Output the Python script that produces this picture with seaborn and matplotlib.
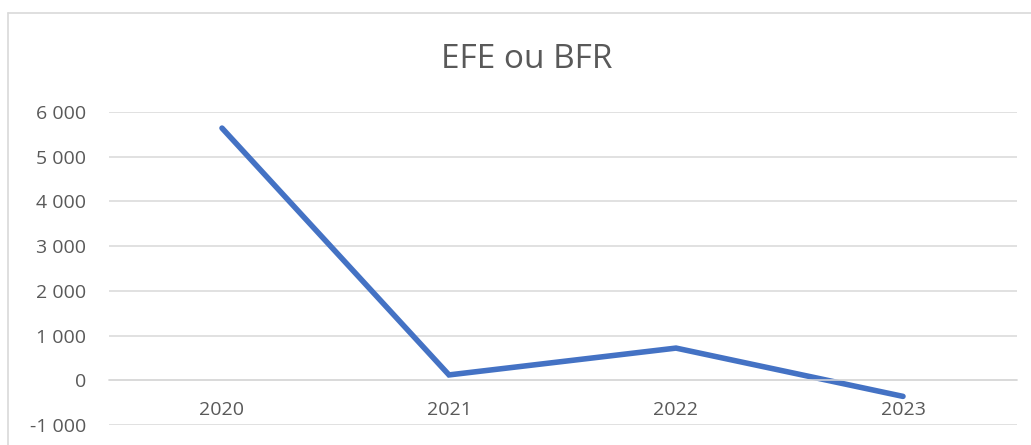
import pandas as pd
import matplotlib.pyplot as plt
import seaborn as sns
from matplotlib.ticker import FuncFormatter, MultipleLocator
from matplotlib.lines import Line2D

# data
years = ["2020", "2021", "2022", "2023"]
values = [5640, 120, 720, -360]
title = "EFE ou BFR"

df = pd.DataFrame({"year": years, "value": values})

sns.set_theme(style="white")
plt.rcParams["font.family"] = ["Open Sans", "DejaVu Sans"]

text_color = "#595959"
grid_color = "#D9D9D9"

fig = plt.figure(figsize=(10.31, 4.45), dpi=100)
ax = fig.add_axes([108.5 / 1031, 1 - 425 / 445, (1016.5 - 108.5) / 1031, (425 - 112) / 445])

sns.lineplot(data=df, x="year", y="value", ax=ax, color="#4472C4",
             linewidth=4.0, solid_capstyle="round", solid_joinstyle="miter", sort=False)

ax.set_xlim(-0.5, 3.5)
ax.set_ylim(-1000, 6000)
ax.yaxis.set_major_locator(MultipleLocator(1000))
ax.yaxis.set_major_formatter(FuncFormatter(lambda v, p: f"{v:,.0f}".replace(",", " ")))

ax.grid(axis="y", color=grid_color, linewidth=1.1)
ax.set_axisbelow(True)
for s in ["top", "right", "left"]:
    ax.spines[s].set_visible(False)
ax.spines["bottom"].set_position(("data", 0))
ax.spines["bottom"].set_color(grid_color)
ax.spines["bottom"].set_linewidth(1.1)

ax.tick_params(axis="y", length=0, pad=16, labelsize=14, labelcolor=text_color)
ax.tick_params(axis="x", length=0, pad=15, labelsize=14, labelcolor=text_color)
ax.set_xlabel("")
ax.set_ylabel("")

fig.text(527 / 1031, 1 - 60 / 445, title, ha="center", va="center",
         fontsize=24, color=text_color)

# chart area border (top and left edges visible)
fig.add_artist(Line2D([8 / 1031, 1.0], [1 - 13 / 445, 1 - 13 / 445],
                      transform=fig.transFigure, color=grid_color, linewidth=1.2))
fig.add_artist(Line2D([8 / 1031, 8 / 1031], [0.0, 1 - 13 / 445],
                      transform=fig.transFigure, color=grid_color, linewidth=1.2))

fig.savefig("out.png", dpi=100)
